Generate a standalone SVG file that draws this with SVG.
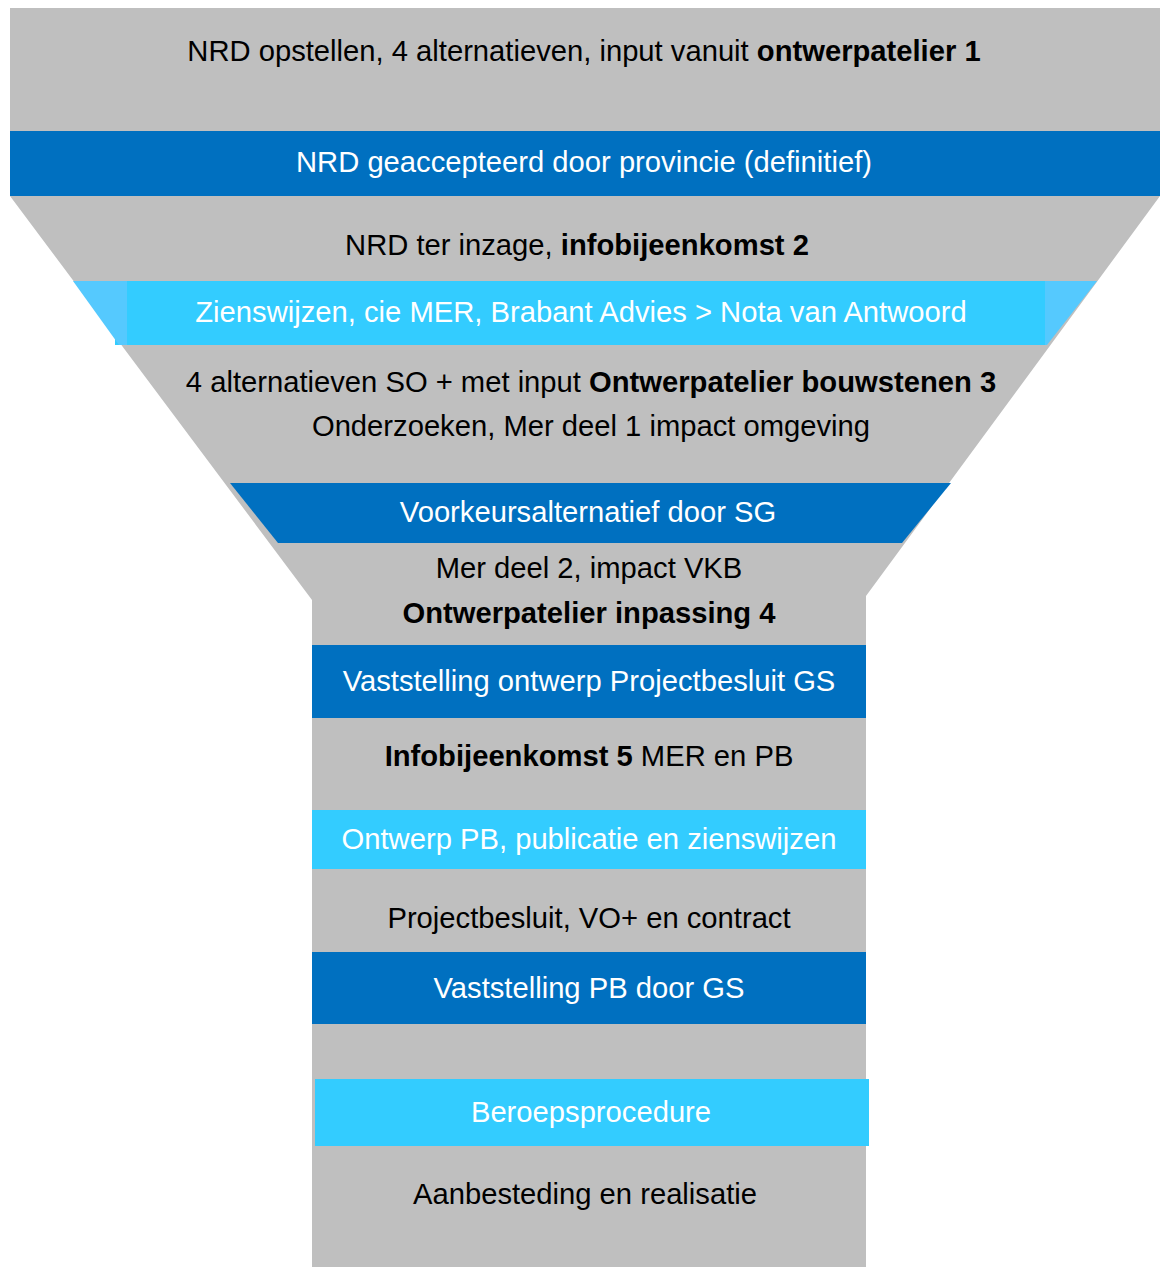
<svg xmlns="http://www.w3.org/2000/svg" width="1161" height="1267" viewBox="0 0 1161 1267">
<style>
.gray{fill:#BFBFBF}
.dark{fill:#0070C0}
.light{fill:#33CCFF}
.lighter{fill:#55C9FE}
text{font-family:"Liberation Sans",Arial,sans-serif;font-size:29.2px;text-anchor:middle}
.k{fill:#000}
.w{fill:#fff}
.b{font-weight:bold}
</style>
<rect width="1161" height="1267" fill="#fff"/>
<g id="funnel-body">
<rect class="gray" x="10" y="8" width="1150" height="124"/>
<polygon class="gray" points="10,196 1160,196 866,596 866,1267 312,1267 312,600"/>
</g>
<g id="step-nrd-opstellen">
<text class="k" x="584" y="61">NRD opstellen, 4 alternatieven, input vanuit <tspan class="b">ontwerpatelier 1</tspan></text>
</g>
<g id="step-nrd-geaccepteerd">
<rect class="dark" x="10" y="131" width="1150" height="65"/>
<text class="w" x="584" y="172">NRD geaccepteerd door provincie (definitief)</text>
</g>
<g id="step-nrd-inzage">
<text class="k" x="577" y="255">NRD ter inzage, <tspan class="b">infobijeenkomst 2</tspan></text>
</g>
<g id="step-zienswijzen">
<rect class="light" x="115" y="281" width="931" height="64"/>
<polygon class="lighter" points="73,281 127,281 127,345 119,345"/>
<polygon class="lighter" points="1045,281 1097,281 1047,345 1045,345"/>
<text class="w" x="581" y="322">Zienswijzen, cie MER, Brabant Advies &gt; Nota van Antwoord</text>
</g>
<g id="step-alternatieven">
<text class="k" x="591" y="392">4 alternatieven SO + met input <tspan class="b">Ontwerpatelier bouwstenen 3</tspan></text>
<text class="k" x="591" y="436">Onderzoeken, Mer deel 1 impact omgeving</text>
</g>
<g id="step-voorkeursalternatief">
<polygon class="dark" points="230,483 951,483 902,543 278,543"/>
<text class="w" x="588" y="522">Voorkeursalternatief door SG</text>
</g>
<g id="step-mer-deel-2">
<text class="k" x="589" y="578">Mer deel 2, impact VKB</text>
<text class="k b" x="589" y="623">Ontwerpatelier inpassing 4</text>
</g>
<g id="step-vaststelling-ontwerp">
<rect class="dark" x="312" y="645" width="554" height="73"/>
<text class="w" x="589" y="691">Vaststelling ontwerp Projectbesluit GS</text>
</g>
<g id="step-infobijeenkomst-5">
<text class="k" x="589" y="766"><tspan class="b">Infobijeenkomst 5</tspan> MER en PB</text>
</g>
<g id="step-ontwerp-pb">
<rect class="light" x="312" y="810" width="554" height="59"/>
<text class="w" x="589" y="849">Ontwerp PB, publicatie en zienswijzen</text>
</g>
<g id="step-projectbesluit">
<text class="k" x="589" y="928">Projectbesluit, VO+ en contract</text>
</g>
<g id="step-vaststelling-pb">
<rect class="dark" x="312" y="952" width="554" height="72"/>
<text class="w" x="589" y="998">Vaststelling PB door GS</text>
</g>
<g id="step-beroepsprocedure">
<rect class="light" x="315" y="1079" width="554" height="67"/>
<text class="w" x="591" y="1122">Beroepsprocedure</text>
</g>
<g id="step-aanbesteding">
<text class="k" x="585" y="1204">Aanbesteding en realisatie</text>
</g>
</svg>
